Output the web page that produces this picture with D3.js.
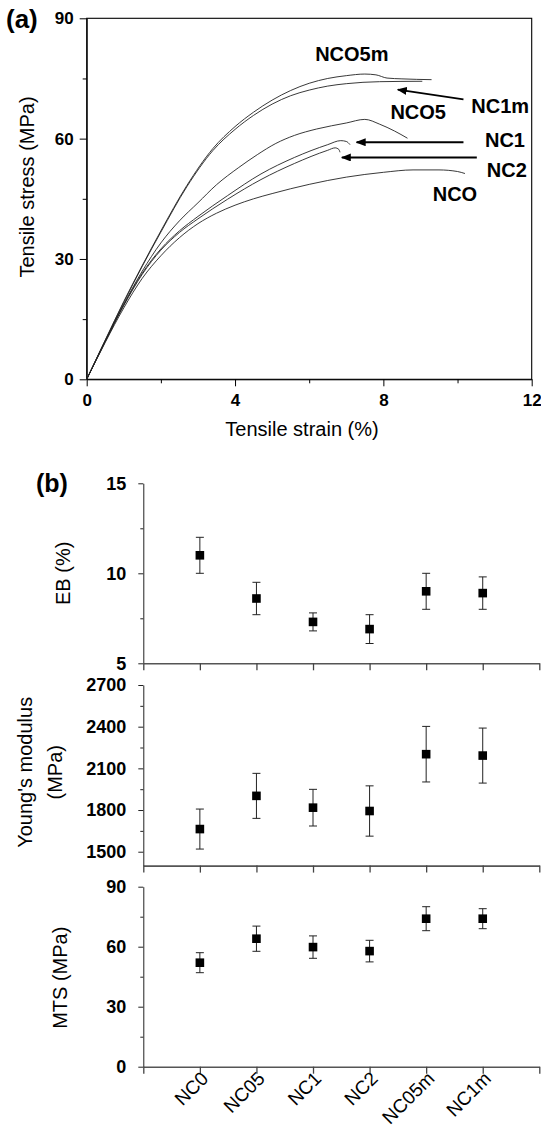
<!DOCTYPE html>
<html>
<head>
<meta charset="utf-8">
<script src="https://cdn.jsdelivr.net/npm/d3@7"></script>
<style>
    body { margin: 0; background: #fff; }
    svg { display: block; font-family: "Liberation Sans", Arial, sans-serif; }
</style>
</head>
<body>
<div id="chart"></div>
<script>
// Stress-strain curves, [strain %, stress MPa]
const curveNCO5m = [[0,0],[0.5,9.8],[1,19.4],[1.5,28.4],[2,37],[2.7,48.3],[3.4,57.5],[4,63],[4.5,66.6],[5,69.6],[5.5,72],[6,73.8],[6.5,75],[7,75.7],[7.5,76.1],[7.8,75.9],[8.1,75.1],[8.5,74.9],[9.3,74.7]]
const curveNC1m = [[0,0],[0.5,9.7],[1,19.2],[1.5,28.2],[2,36.7],[2.7,48],[3.4,57],[4,62.3],[4.5,65.8],[5,68.6],[5.5,70.7],[6,72.1],[6.5,73.1],[7,73.7],[7.9,74.2],[9.05,74.3]]
const curveNCO5 = [[0,0],[0.5,9.5],[1,18.7],[1.5,27],[2,34],[2.5,39.5],[3,44],[3.5,48.5],[4.1,52.8],[4.6,56],[5.1,58.8],[5.6,60.8],[6.2,62.4],[7,63.9],[7.5,64.8],[7.9,63.6],[8.3,61.9],[8.65,60.1]]
const curveNC1 = [[0,0],[0.5,9.5],[1,18.6],[1.5,26.5],[2,32.5],[2.5,37],[3,40.6],[3.8,45.8],[4.7,51.2],[5.6,55.3],[6.5,58.5],[6.85,59.5],[7,59.3],[7.1,58.5]]
const curveNC2 = [[0,0],[0.5,9.4],[1,18.4],[1.5,26.2],[2,32.2],[2.5,36.6],[3,40],[3.8,44.9],[4.7,49.8],[5.6,53.8],[6.5,57.1],[6.7,57.7],[6.8,57.3],[6.83,56.6]]
const curveNCO = [[0,0],[0.5,9.2],[1,17.8],[1.5,25.2],[2,30.8],[2.5,35.3],[3,38.8],[3.5,41.4],[4,43.4],[4.5,45],[5,46.3],[6,48.6],[7,50.4],[8,51.6],[8.8,52.2],[9.5,52.2],[10,51.8],[10.2,51.3]]

const strainTicks = [0, 4, 8, 12]
const stressTicks = [0, 30, 60, 90]

// Mechanical properties per sample
const samples = ['NC0', 'NC05', 'NC1', 'NC2', 'NC05m', 'NC1m']
const ebMean = [11.0, 8.6, 7.3, 6.9, 9.0, 8.9]
const ebErr = [1.0, 0.9, 0.5, 0.8, 1.0, 0.9]
const modulusMean = [1663, 1902, 1817, 1793, 2202, 2192]
const modulusErr = [144, 162, 132, 181, 200, 198]
const mtsMean = [52.0, 64.0, 59.8, 57.8, 74.0, 74.0]
const mtsErr = [5.0, 6.3, 5.6, 5.4, 6.0, 5.0]

const svg = d3.select('#chart')
    .append('svg')
    .attr('width', 541)
    .attr('height', 1131)

function styleAxis(g, size, weight) {
    g.selectAll('text')
        .attr('font-family', '"Liberation Sans", Arial, sans-serif')
        .attr('font-size', size)
        .attr('font-weight', weight)
        .attr('fill', '#000')
}

class TensilePlot {
    constructor(_config, _curves) {
        this.config = {
            left: _config.left,
            right: _config.right,
            top: _config.top,
            bottom: _config.bottom
        }
        this.curves = _curves
        this.initVis()
    }

    initVis() {
        let vis = this
        let c = vis.config

        vis.x = d3.scaleLinear().domain([0, 12]).range([c.left, c.right])
        vis.y = d3.scaleLinear().domain([0, 90]).range([c.bottom, c.top])

        vis.g = svg.append('g')

        vis.g.append('rect')
            .attr('x', c.left)
            .attr('y', c.top)
            .attr('width', c.right - c.left)
            .attr('height', c.bottom - c.top)
            .attr('fill', 'none')
            .attr('stroke', '#000')
            .attr('stroke-width', 1.1)

        // major + minor ticks
        let yAxis = vis.g.append('g')
            .attr('transform', `translate(${c.left},0)`)
            .call(d3.axisLeft(vis.y).tickValues(stressTicks).tickSize(7).tickPadding(6).tickSizeOuter(0))
        styleAxis(yAxis, 17, 'bold')
        vis.g.append('g')
            .attr('transform', `translate(${c.left},0)`)
            .call(d3.axisLeft(vis.y).tickValues([15, 45, 75]).tickSize(4).tickFormat(''))
            .select('.domain').remove()

        let xAxis = vis.g.append('g')
            .attr('transform', `translate(0,${c.bottom})`)
            .call(d3.axisBottom(vis.x).tickValues(strainTicks).tickSize(7).tickPadding(8).tickSizeOuter(0))
        styleAxis(xAxis, 17, 'bold')
        vis.g.append('g')
            .attr('transform', `translate(0,${c.bottom})`)
            .call(d3.axisBottom(vis.x).tickValues([2, 6, 10]).tickSize(4).tickFormat(''))
            .select('.domain').remove()

        vis.g.selectAll('.domain, .tick line').attr('stroke', '#000')

        vis.g.append('text')
            .attr('transform', `translate(34,187) rotate(-90)`)
            .attr('text-anchor', 'middle')
            .attr('font-size', 20)
            .text('Tensile stress (MPa)')

        vis.g.append('text')
            .attr('x', 302)
            .attr('y', 436)
            .attr('text-anchor', 'middle')
            .attr('font-size', 20)
            .text('Tensile strain (%)')

        vis.g.append('text')
            .attr('x', 6)
            .attr('y', 28)
            .attr('font-size', 26)
            .attr('font-weight', 'bold')
            .text('(a)')

        vis.renderVis()
    }

    renderVis() {
        let vis = this

        let line = d3.line()
            .x(d => vis.x(d[0]))
            .y(d => vis.y(d[1]))
            .curve(d3.curveMonotoneX)

        vis.g.selectAll('.curve')
            .data(vis.curves)
            .join('path')
            .attr('class', 'curve')
            .attr('d', d => line(d.points))
            .attr('fill', 'none')
            .attr('stroke', '#222')
            .attr('stroke-width', 0.9)

        svg.append('defs').append('marker')
            .attr('id', 'head')
            .attr('markerUnits', 'userSpaceOnUse')
            .attr('viewBox', '0 0 10 8')
            .attr('refX', 9)
            .attr('refY', 4)
            .attr('markerWidth', 10)
            .attr('markerHeight', 8)
            .attr('orient', 'auto')
            .append('path')
            .attr('d', 'M0,0L10,4L0,8Z')
            .attr('fill', '#000')

        let arrows = vis.curves.filter(d => d.arrow)
        vis.g.selectAll('.arrow')
            .data(arrows)
            .join('line')
            .attr('class', 'arrow')
            .attr('x1', d => vis.x(d.arrow[0][0]))
            .attr('y1', d => vis.y(d.arrow[0][1]))
            .attr('x2', d => vis.x(d.arrow[1][0]))
            .attr('y2', d => vis.y(d.arrow[1][1]))
            .attr('stroke', '#000')
            .attr('stroke-width', 1.8)
            .attr('marker-end', 'url(#head)')

        vis.g.selectAll('.curve-label')
            .data(vis.curves)
            .join('text')
            .attr('class', 'curve-label')
            .attr('x', d => vis.x(d.label[0]))
            .attr('y', d => vis.y(d.label[1]))
            .attr('dy', '0.36em')
            .attr('text-anchor', 'middle')
            .attr('font-size', 20)
            .attr('font-weight', 'bold')
            .text(d => d.name)
    }
}

class PropertyPanel {
    constructor(_config, _mean, _err) {
        this.config = _config
        this.mean = _mean
        this.err = _err
        this.initVis()
    }

    initVis() {
        let vis = this
        let c = vis.config

        vis.x = d3.scaleLinear().domain([0, samples.length + 1]).range([143.3, 539.3])
        vis.y = d3.scaleLinear().domain(c.domain).range([c.bottom, c.top])

        vis.g = svg.append('g')

        let yAxis = vis.g.append('g')
            .attr('transform', `translate(${vis.x(0)},0)`)
            .call(d3.axisLeft(vis.y).tickValues(c.ticks).tickFormat(d3.format('d'))
                .tickSize(5).tickPadding(12).tickSizeOuter(0))
        styleAxis(yAxis, 18, 'bold')
        yAxis.selectAll('.domain, line').attr('stroke', '#222')
        vis.g.append('g')
            .attr('transform', `translate(${vis.x(0)},0)`)
            .call(d3.axisLeft(vis.y).tickValues(c.minor).tickSize(3).tickFormat(''))
            .call(g => g.select('.domain').remove())
            .selectAll('line').attr('stroke', '#222')

        let xAxis = vis.g.append('g')
            .attr('transform', `translate(0,${c.bottom})`)
            .call(d3.axisBottom(vis.x).tickValues(d3.range(0, samples.length + 2)).tickSize(7).tickFormat('').tickSizeOuter(0))
        xAxis.select('.domain').attr('stroke', '#555').attr('stroke-width', 1.6)
        xAxis.selectAll('line').attr('stroke', '#444').attr('stroke-width', 1.3)

        if (c.showNames) {
            xAxis.selectAll('.tick')
                .filter(d => d >= 1 && d <= samples.length)
                .append('text')
                .attr('transform', 'translate(9,13) rotate(-45)')
                .attr('text-anchor', 'end')
                .attr('font-size', 19)
                .attr('fill', '#000')
                .text(d => samples[d - 1])
        }

        let title = vis.g.append('text')
            .attr('transform', `translate(${c.titleX},${(c.top + c.bottom) / 2 + c.titleShift}) rotate(-90)`)
            .attr('text-anchor', 'middle')
            .attr('font-size', 20)
        c.title.forEach((t, i) => {
            title.append('tspan')
                .attr('x', 0)
                .attr('dy', i === 0 ? 0 : 30)
                .text(t)
        })

        vis.renderVis()
    }

    renderVis() {
        let vis = this
        let rows = samples.map((s, i) => ({i: i + 1, mean: vis.mean[i], err: vis.err[i]}))

        let bars = vis.g.selectAll('.err')
            .data(rows)
            .join('g')
            .attr('class', 'err')
            .attr('stroke', '#222')
            .attr('stroke-width', 1)

        bars.append('line')
            .attr('x1', d => vis.x(d.i))
            .attr('x2', d => vis.x(d.i))
            .attr('y1', d => vis.y(d.mean - d.err))
            .attr('y2', d => vis.y(d.mean + d.err))
        bars.append('line')
            .attr('x1', d => vis.x(d.i) - 4)
            .attr('x2', d => vis.x(d.i) + 4)
            .attr('y1', d => vis.y(d.mean + d.err))
            .attr('y2', d => vis.y(d.mean + d.err))
        bars.append('line')
            .attr('x1', d => vis.x(d.i) - 4)
            .attr('x2', d => vis.x(d.i) + 4)
            .attr('y1', d => vis.y(d.mean - d.err))
            .attr('y2', d => vis.y(d.mean - d.err))

        vis.g.selectAll('.pt')
            .data(rows)
            .join('rect')
            .attr('class', 'pt')
            .attr('x', d => vis.x(d.i) - 4.3)
            .attr('y', d => vis.y(d.mean) - 4.3)
            .attr('width', 8.6)
            .attr('height', 8.6)
            .attr('fill', '#000')
    }
}

new TensilePlot({left: 86.7, right: 531.7, top: 18.3, bottom: 379.3}, [
    {name: 'NCO5m', points: curveNCO5m, label: [7.15, 81.1]},
    {name: 'NC1m', points: curveNC1m, label: [11.15, 68.2], arrow: [[10.16, 69.8], [8.39, 72.2]]},
    {name: 'NCO5', points: curveNCO5, label: [8.94, 66.8]},
    {name: 'NC1', points: curveNC1, label: [11.28, 59.7], arrow: [[10.16, 59.1], [7.28, 59.1]]},
    {name: 'NC2', points: curveNC2, label: [11.33, 52.2], arrow: [[10.52, 55.3], [6.88, 55.3]]},
    {name: 'NCO', points: curveNCO, label: [9.93, 46.2]}
])

svg.append('text')
    .attr('x', 36)
    .attr('y', 492)
    .attr('font-size', 25)
    .attr('font-weight', 'bold')
    .text('(b)')

new PropertyPanel({top: 483.3, bottom: 663.3, domain: [5, 15], ticks: [5, 10, 15], minor: [7.5, 12.5],
    title: ['EB (%)'], titleX: 70, titleShift: 0}, ebMean, ebErr)
new PropertyPanel({top: 685, bottom: 865.6, domain: [1400, 2700], ticks: [1500, 1800, 2100, 2400, 2700], minor: [1650, 1950, 2250, 2550],
    title: ["Young's modulus", '(MPa)'], titleX: 32, titleShift: -3}, modulusMean, modulusErr)
new PropertyPanel({top: 886.7, bottom: 1066.7, domain: [0, 90], ticks: [0, 30, 60, 90], minor: [15, 45, 75],
    title: ['MTS (MPa)'], titleX: 67, titleShift: 1, showNames: true}, mtsMean, mtsErr)
</script>
</body>
</html>
